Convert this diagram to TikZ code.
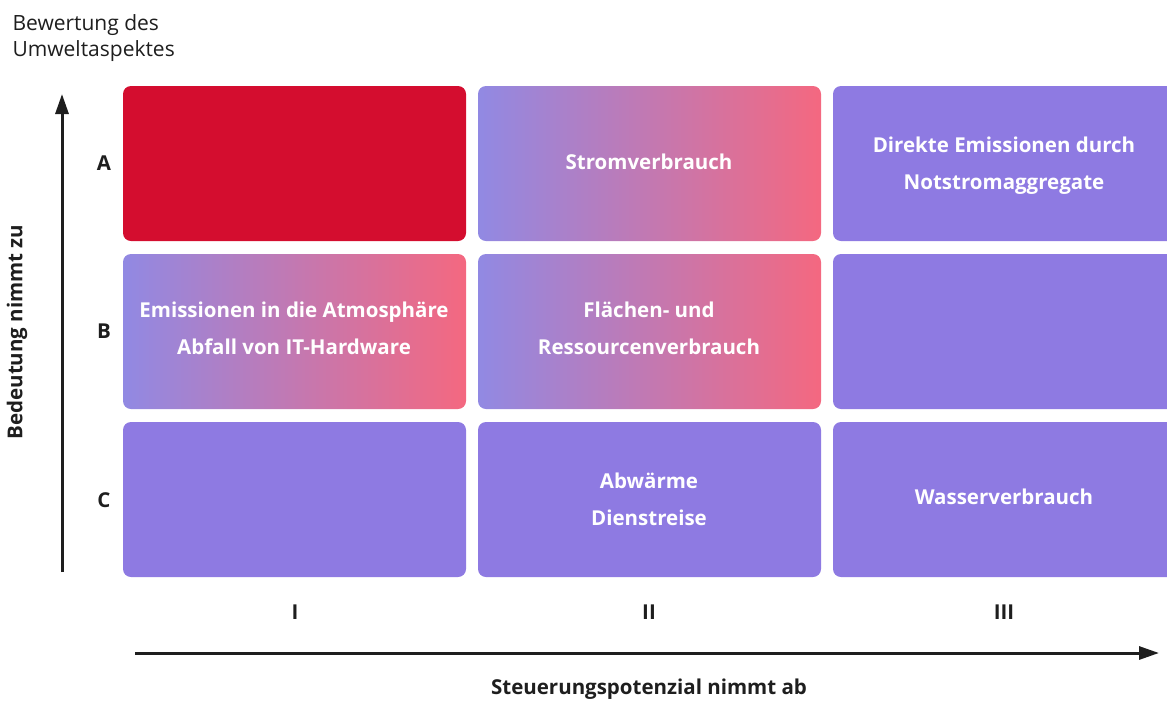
\documentclass[tikz,border=0pt]{standalone}
\usepackage{fontspec}
\setmainfont{Open Sans}
\usetikzlibrary{arrows.meta}
\definecolor{cred}{HTML}{D40D2F}
\definecolor{cpurple}{HTML}{8E7AE2}
\definecolor{gleft}{HTML}{9189E3}
\definecolor{gright}{HTML}{F46880}
\definecolor{ink}{HTML}{1E1E1E}
\tikzset{
  cell/.style={rounded corners=8pt},
  celltext/.style={text=white, font=\fontsize{20.5}{37}\selectfont\bfseries, align=center},
  axislabel/.style={text=ink, font=\fontsize{20.5}{24}\selectfont\bfseries},
  axisarrow/.style={draw=ink, line width=3pt, -{Triangle[length=20pt,width=13pt]}},
}
\begin{document}
\begin{tikzpicture}[x=1pt,y=-1pt]
\useasboundingbox (0,0) rectangle (1167,702);
% row A
\fill[cell, cred] (123,86) rectangle (466,241);
\shade[cell, left color=gleft, right color=gright] (478,86) rectangle (821,241);
\fill[cell, cpurple] (833,86) rectangle (1176,241);
% row B
\shade[cell, left color=gleft, right color=gright] (123,254) rectangle (466,409);
\shade[cell, left color=gleft, right color=gright] (478,254) rectangle (821,409);
\fill[cell, cpurple] (833,254) rectangle (1176,409);
% row C
\fill[cell, cpurple] (123,422) rectangle (466,577);
\fill[cell, cpurple] (478,422) rectangle (821,577);
\fill[cell, cpurple] (833,422) rectangle (1176,577);
% cell texts
\node[celltext] (t1) at (649,162) {Stromverbrauch};
\node[celltext] (t2) at (1004,165.5) {Direkte Emissionen durch\\Notstromaggregate};
\node[celltext] (t3) at (294,328.5) {Emissionen in die Atmosphäre\\Abfall von IT-Hardware};
\node[celltext] (t4) at (649,328.5) {Flächen- und\\Ressourcenverbrauch};
\node[celltext] (t5) at (649,499.5) {Abwärme\\Dienstreise};
\node[celltext] (t6) at (1004,497) {Wasserverbrauch};
% row / column labels
\node[axislabel] (la) at (104,163) {A};
\node[axislabel] (lb) at (104,331) {B};
\node[axislabel] (lc) at (104,500) {C};
\node[axislabel] (l1) at (295,612) {I};
\node[axislabel] (l2) at (649,612) {II};
\node[axislabel] (l3) at (1004,612) {III};
% axes
\coordinate (vs) at (62,572);
\coordinate (ve) at (62,94);
\draw[axisarrow] (vs) -- (ve);
\coordinate (hs) at (135,653);
\coordinate (he) at (1159,653);
\draw[axisarrow] (hs) -- (he);
\node[axislabel, rotate=90] (ylab) at (17,332) {Bedeutung nimmt zu};
\node[axislabel, inner sep=1pt] (xlab) at (649,689) {Steuerungspotenzial nimmt ab};
\node[text=ink, font=\fontsize{21}{26}\selectfont, align=left, anchor=north west] (title) at (9,11) {Bewertung des\\Umweltaspektes};
\end{tikzpicture}
\end{document}
